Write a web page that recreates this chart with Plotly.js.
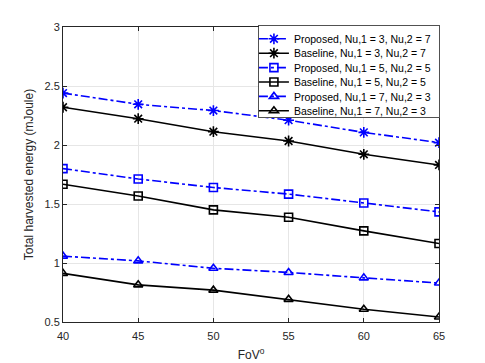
<!DOCTYPE html>
<html>
<head>
<meta charset="utf-8">
<script src="https://cdn.plot.ly/plotly-3.0.1.min.js"></script>
<style>html,body{margin:0;padding:0;background:#fff;}#plot{width:485px;height:363px;}</style>
</head>
<body>
<div id="plot"></div>
<script>
var fov = [40, 45, 50, 55, 60, 65];
var proposed37 = [2.44, 2.345, 2.292, 2.21, 2.107, 2.02];
var baseline37 = [2.32, 2.223, 2.113, 2.034, 1.921, 1.831];
var proposed55 = [1.80, 1.712, 1.640, 1.584, 1.509, 1.433];
var baseline55 = [1.668, 1.568, 1.45, 1.388, 1.272, 1.165];
var proposed73 = [1.058, 1.018, 0.955, 0.92, 0.874, 0.83];
var baseline73 = [0.912, 0.815, 0.77, 0.692, 0.608, 0.542];
var names = [
  'Proposed, Nu,1 = 3, Nu,2 = 7',
  'Baseline, Nu,1 = 3, Nu,2 = 7',
  'Proposed, Nu,1 = 5, Nu,2 = 5',
  'Baseline, Nu,1 = 5, Nu,2 = 5',
  'Proposed, Nu,1 = 7, Nu,2 = 3',
  'Baseline, Nu,1 = 7, Nu,2 = 3'
];
var yTicks = [0.5, 1, 1.5, 2, 2.5, 3];
var yTickText = ['0.5', '1', '1.5', '2', '2.5', '3'];
var xTicks = [40, 45, 50, 55, 60, 65];

var series = [proposed37, baseline37, proposed55, baseline55, proposed73, baseline73];
var symbols = ['asterisk-open', 'asterisk-open', 'square-open', 'square-open', 'triangle-up-open', 'triangle-up-open'];
var traces = series.map(function (ys, i) {
  var isProp = (i % 2 === 0);
  var col = isProp ? '#0000ff' : '#000000';
  return {
    x: fov, y: ys, name: names[i], type: 'scatter', mode: 'lines+markers',
    line: {color: col, width: 1.6, dash: isProp ? 'dashdot' : 'solid'},
    marker: {symbol: symbols[i], size: symbols[i] === 'asterisk-open' ? 9 : 8,
             color: col, line: {color: col, width: 1.6}}
  };
});

var layout = {
  width: 485, height: 363,
  margin: {l: 63, r: 46, t: 27, b: 41},
  paper_bgcolor: '#ffffff', plot_bgcolor: '#ffffff',
  font: {family: 'Liberation Sans, Arial, sans-serif', size: 11, color: '#262626'},
  showlegend: true,
  legend: {x: 1.003, xanchor: 'right', y: 1.0068, yanchor: 'top',
           bgcolor: '#ffffff', bordercolor: '#262626', borderwidth: 0.8,
           font: {size: 10.5, color: '#000'}, tracegroupgap: 0, itemwidth: 30},
  xaxis: {
    range: [40, 65], tickvals: xTicks, ticktext: xTicks.map(String),
    showgrid: true, gridcolor: '#e6e6e6', gridwidth: 1,
    showline: true, linecolor: '#262626', linewidth: 1, mirror: 'ticks',
    ticks: 'inside', ticklen: 4, tickcolor: '#262626', zeroline: false,
    tickfont: {size: 11, color: '#262626'}, ticklabelstandoff: 4,
    title: {text: 'FoV<sup>o</sup>', font: {size: 12, color: '#262626'}, standoff: 9}
  },
  yaxis: {
    range: [0.5, 3], tickvals: yTicks, ticktext: yTickText,
    showgrid: true, gridcolor: '#e6e6e6', gridwidth: 1,
    showline: true, linecolor: '#262626', linewidth: 1, mirror: 'ticks',
    ticks: 'inside', ticklen: 4, tickcolor: '#262626', zeroline: false,
    tickfont: {size: 11, color: '#262626'},
    title: {text: 'Total harvested energy (mJoule)', font: {size: 12, color: '#262626'}, standoff: 8}
  }
};
Plotly.newPlot('plot', traces, layout, {displayModeBar: false, staticPlot: true}).then(function (gd) {
  // compact legend row spacing to MATLAB-like density
  var leg = gd.querySelector('.legend');
  if (!leg) return;
  var items = leg.querySelectorAll('.traces');
  if (!items.length) return;
  var parseT = function (el) {
    var m = /translate\(\s*([-\d.e]+)[ ,]+([-\d.e]+)\s*\)/.exec(el.getAttribute('transform') || '');
    return m ? [parseFloat(m[1]), parseFloat(m[2])] : [0, 0];
  };
  var first = parseT(items[0]);
  var oldStep = items.length > 1 ? parseT(items[1])[1] - first[1] : 19;
  var rowH = 14.4;
  var y0 = first[1] - 1.5;
  var dxItems = -3, dxBox = 2;
  items.forEach(function (t, i) {
    var p = parseT(t);
    t.setAttribute('transform', 'translate(' + (p[0] + dxItems) + ',' + (y0 + i * rowH) + ')');
  });
  var shrink = (items.length - 1) * (oldStep - rowH) + 10;
  var bg = leg.querySelector('rect.bg');
  if (bg) {
    var h = parseFloat(bg.getAttribute('height'));
    bg.setAttribute('height', h - shrink);
    var w = parseFloat(bg.getAttribute('width'));
    var bx = parseFloat(bg.getAttribute('x') || '0');
    bg.setAttribute('width', w - dxBox);
    bg.setAttribute('x', bx + dxBox);
  }
});
</script>
</body>
</html>
